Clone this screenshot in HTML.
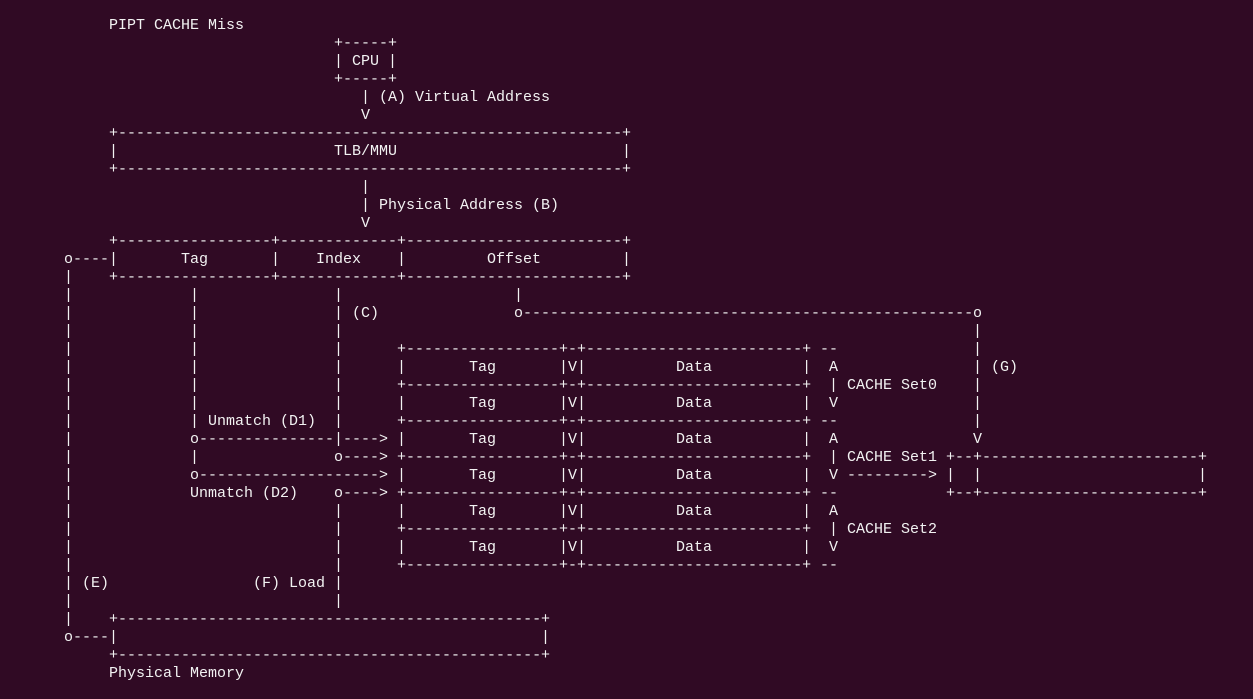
<!DOCTYPE html>
<html><head><meta charset="utf-8"><style>
html,body{margin:0;padding:0;background:#300a24;width:1253px;height:699px;overflow:hidden}
i{position:absolute;font-style:normal;white-space:pre;font-family:"Liberation Mono",monospace;font-size:15px;line-height:18px;color:#f2f2f2;left:calc(64px + var(--c)*9px);top:calc(17px + var(--r)*18px)}
</style></head><body>
<i style="--c:5;--r:0">PIPT CACHE Miss</i>
<i style="--c:30;--r:1">+-----+
| CPU |
+-----+</i>
<i style="--c:33;--r:4">| (A) Virtual Address
V</i>
<i style="--c:5;--r:6">+</i><i style="--c:6;--r:6">--------------------------------------------------------</i><i style="--c:62;--r:6">+</i>
<i style="--c:5;--r:7">|</i><i style="--c:30;--r:7">TLB/MMU</i><i style="--c:62;--r:7">|</i>
<i style="--c:5;--r:8">+</i><i style="--c:6;--r:8">--------------------------------------------------------</i><i style="--c:62;--r:8">+</i>
<i style="--c:33;--r:9">|
| Physical Address (B)
V</i>
<i style="--c:5;--r:12">+</i><i style="--c:6;--r:12">-----------------</i><i style="--c:23;--r:12">+</i><i style="--c:24;--r:12">-------------</i><i style="--c:37;--r:12">+</i><i style="--c:38;--r:12">------------------------</i><i style="--c:62;--r:12">+</i>
<i style="--c:0;--r:13">o----|</i><i style="--c:13;--r:13">Tag</i><i style="--c:23;--r:13">|</i><i style="--c:28;--r:13">Index</i><i style="--c:37;--r:13">|</i><i style="--c:47;--r:13">Offset</i><i style="--c:62;--r:13">|</i>
<i style="--c:5;--r:14">+</i><i style="--c:6;--r:14">-----------------</i><i style="--c:23;--r:14">+</i><i style="--c:24;--r:14">-------------</i><i style="--c:37;--r:14">+</i><i style="--c:38;--r:14">------------------------</i><i style="--c:62;--r:14">+</i>
<i style="--c:0;--r:14">|
|
|
|
|
|
|
|
|
|
|
|
|
|
|
|
|
|
|
|
o----|</i>
<i style="--c:14;--r:15">|
|
|
|
|
|
|
|
o
|
o</i>
<i style="--c:30;--r:15">|
|
|
|
|
|
|
|
|
o

o
|
|
|
|
|
|</i>
<i style="--c:50;--r:15">|
o</i>
<i style="--c:101;--r:16">o
|
|
|
|
|
|
V
+
|
+</i>
<i style="--c:32;--r:16">(C)</i>
<i style="--c:51;--r:16">--------------------------------------------------</i>
<i style="--c:103;--r:19">(G)</i>
<i style="--c:16;--r:22">Unmatch (D1)</i>
<i style="--c:15;--r:23">---------------</i><i style="--c:31;--r:23">----&gt;</i>
<i style="--c:31;--r:24">----&gt;</i>
<i style="--c:15;--r:25">--------------------&gt;</i>
<i style="--c:14;--r:26">Unmatch (D2)</i><i style="--c:31;--r:26">----&gt;</i>
<i style="--c:37;--r:18">+-----------------+-+------------------------+
|       Tag       |V|          Data          |
+-----------------+-+------------------------+
|       Tag       |V|          Data          |
+-----------------+-+------------------------+
|       Tag       |V|          Data          |
+-----------------+-+------------------------+
|       Tag       |V|          Data          |
+-----------------+-+------------------------+
|       Tag       |V|          Data          |
+-----------------+-+------------------------+
|       Tag       |V|          Data          |
+-----------------+-+------------------------+</i>
<i style="--c:83;--r:18"> --
  A
  | CACHE Set0
  V
 --
  A
  | CACHE Set1
  V
 --
  A
  | CACHE Set2
  V
 --</i>
<i style="--c:87;--r:25">---------&gt;</i>
<i style="--c:98;--r:24">+--</i><i style="--c:102;--r:24">------------------------</i><i style="--c:126;--r:24">+</i>
<i style="--c:98;--r:25">|</i><i style="--c:126;--r:25">|</i>
<i style="--c:98;--r:26">+--</i><i style="--c:102;--r:26">------------------------</i><i style="--c:126;--r:26">+</i>
<i style="--c:2;--r:31">(E)</i><i style="--c:21;--r:31">(F) Load</i>
<i style="--c:5;--r:33">+</i><i style="--c:6;--r:33">-----------------------------------------------</i><i style="--c:53;--r:33">+</i>
<i style="--c:53;--r:34">|</i>
<i style="--c:5;--r:35">+</i><i style="--c:6;--r:35">-----------------------------------------------</i><i style="--c:53;--r:35">+</i>
<i style="--c:5;--r:36">Physical Memory</i>
</body></html>
